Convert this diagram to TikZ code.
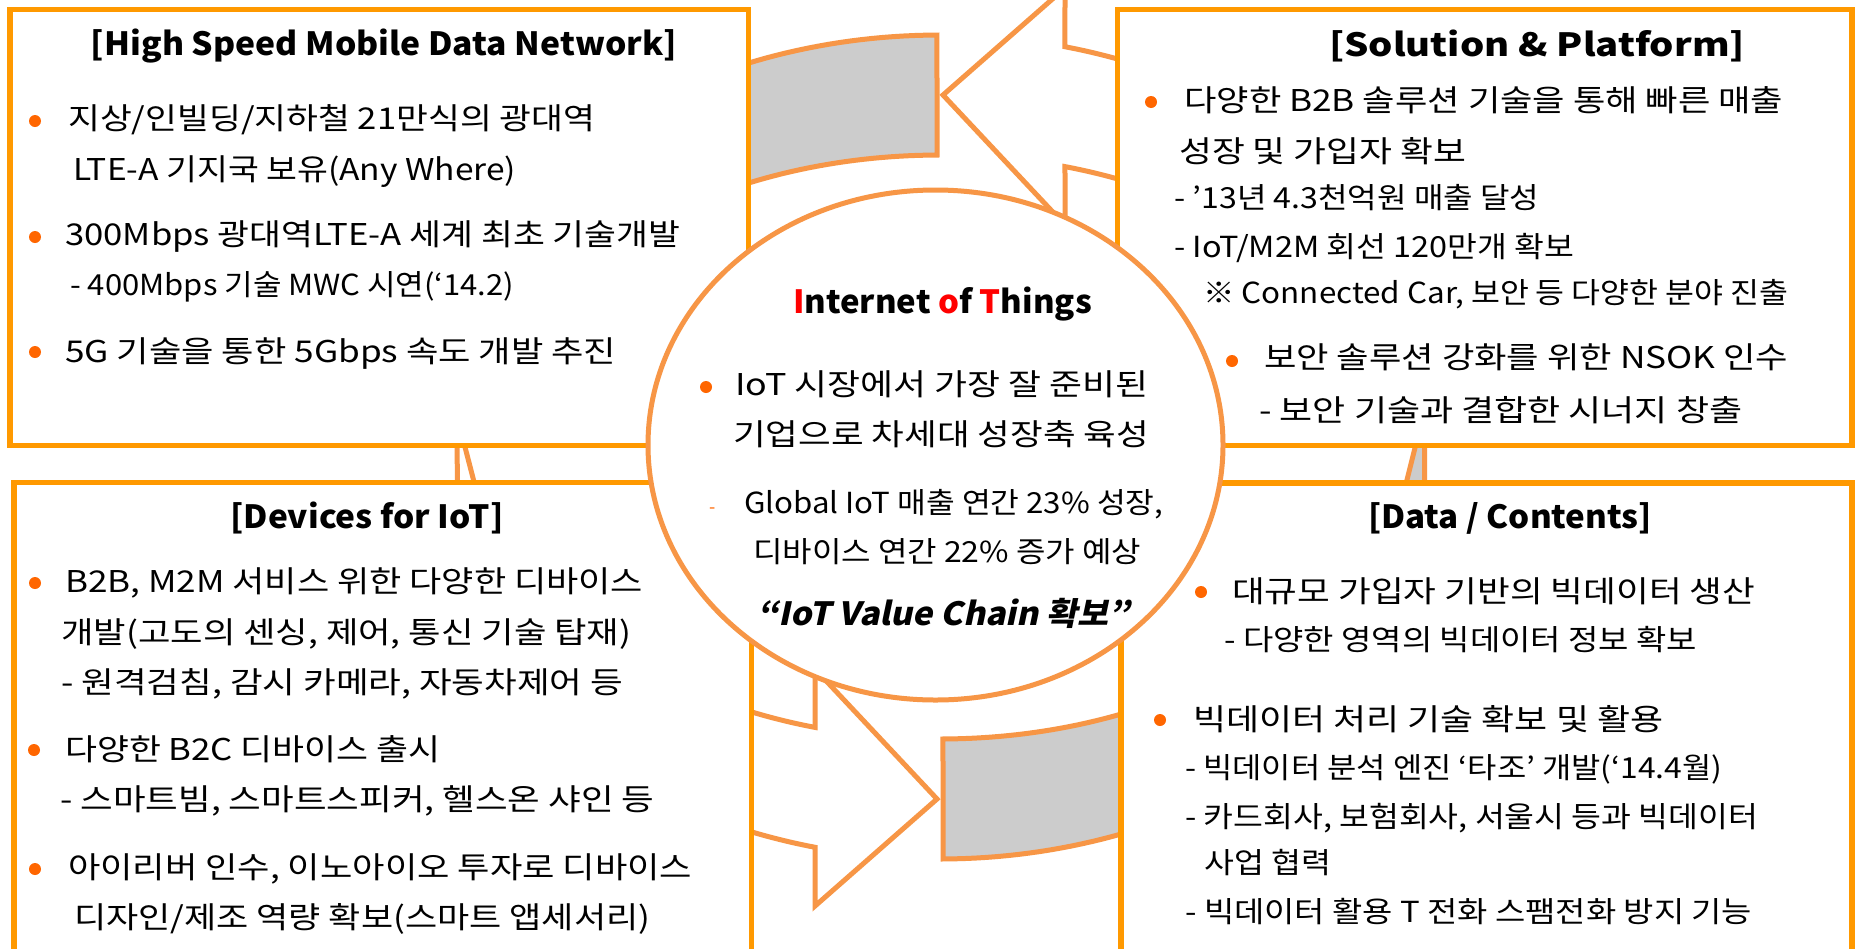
\documentclass[tikz,border=0pt]{standalone}
\usepackage{fontspec}
\usepackage{graphicx}
\setmainfont{Noto Sans CJK KR}
\newfontfamily\bifont{Noto Sans CJK KR}[FakeSlant=0.2]
\definecolor{boxor}{HTML}{FF9900}
\definecolor{arror}{HTML}{F79646}
\definecolor{bul}{HTML}{FF6600}
\definecolor{tailgray}{HTML}{CCCCCC}
\definecolor{hired}{HTML}{FF0000}
\newcommand\fw[2]{\resizebox{#1pt}{\height}{#2}}
\tikzset{
  panel/.style={draw=boxor, line width=5.5pt, fill=white},
  arrowpart/.style={draw=arror, line width=5pt, line join=miter, miter limit=10},
  hub/.style={draw=arror, line width=5pt, fill=white},
  dot/.style={circle, fill=bul, inner sep=0pt, minimum size=12pt},
  txt/.style={anchor=base west, inner sep=0pt, font=\fontsize{30}{36}\selectfont},
  subtxt/.style={anchor=base west, inner sep=0pt, font=\fontsize{29}{35}\selectfont},
  ttl/.style={anchor=base, inner sep=0pt, font=\fontsize{32}{38}\selectfont\bfseries},
}
\begin{document}
\begin{tikzpicture}[x=1pt,y=-1pt]
\useasboundingbox (0,0) rectangle (1859,948);
\clip (0,0) rectangle (1859,948);
\fill[white] (0,0) rectangle (1859,948);
% ---- curved arrows (behind everything) ----
% top gray tail
\draw[arrowpart, fill=tailgray] plot[domain=269.67:200, samples=60] ({940+528*cos(\x)},{447+412*sin(\x)})
  -- plot[domain=200:269.62, samples=60] ({940+448*cos(\x)},{447+292*sin(\x)}) -- cycle;
% top arrow head (pointing left)
\draw[arrowpart, fill=white] plot[domain=330:283.69, samples=60] ({940+528*cos(\x)},{447+412*sin(\x)})
  -- (1065,-12) -- (943,95) -- (1065,225)
  -- plot[domain=286.2:330, samples=60] ({940+448*cos(\x)},{447+292*sin(\x)}) -- cycle;
% bottom gray tail
\draw[arrowpart, fill=tailgray] plot[domain=89.67:20, samples=60] ({940+528*cos(\x)},{447+412*sin(\x)})
  -- plot[domain=20:89.62, samples=60] ({940+448*cos(\x)},{447+292*sin(\x)}) -- cycle;
% bottom arrow head (pointing right)
\draw[arrowpart, fill=white] plot[domain=150:103.69, samples=60] ({940+528*cos(\x)},{447+412*sin(\x)})
  -- (815,906) -- (937,799) -- (815,669)
  -- plot[domain=106.2:150, samples=60] ({940+448*cos(\x)},{447+292*sin(\x)}) -- cycle;
% pieces visible in the side gaps
\draw[arrowpart] (457,425) -- (457.5,505);
\draw[arrowpart] (459.3,425) -- (480,505);
\draw[arrowpart, fill=tailgray] (1424.5,425) -- (1424.5,505) -- (1400.7,505) -- (1420.7,425) -- cycle;
% ---- boxes ----
\draw[panel] (10,9.5) rectangle (748.5,445.5);
\draw[panel] (1117.5,9.5) rectangle (1852,445.5);
\draw[panel] (14,482.5) rectangle (751.5,970);
\draw[panel] (1121,483) rectangle (1852,970);
% ---- central circle ----
\draw[hub] (935.5,445) ellipse [x radius=287.5, y radius=255];
% ---- top-left texts ----
\node[ttl] (t1) at (384,55) {\fw{586}{[High Speed Mobile Data Network]}};
\node[dot] (d11) at (35,121) {};
\node[txt] (a1) at (68,129) {\fw{527}{지상/인빌딩/지하철 21만식의 광대역}};
\node[txt] (a2) at (73,180) {\fw{443}{LTE-A 기지국 보유(Any Where)}};
\node[dot] (d12) at (35,237) {};
\node[txt] (a3) at (65,245) {\fw{615}{300Mbps 광대역LTE-A 세계 최초 기술개발}};
\node[subtxt] (a4) at (70,295) {\fw{444}{- 400Mbps 기술 MWC 시연(‘14.2)}};
\node[dot] (d13) at (35,352) {};
\node[txt] (a5) at (65,362) {\fw{551}{5G 기술을 통한 5Gbps 속도 개발 추진}};
% ---- top-right texts ----
\node[ttl] (t2) at (1537,56) {\fw{416}{[Solution \& Platform]}};
\node[dot] (d21) at (1151,102) {};
\node[txt] (b1) at (1184,111) {\fw{599}{다양한 B2B 솔루션 기술을 통해 빠른 매출}};
\node[txt] (b2) at (1179,162) {\fw{287}{성장 및 가입자 확보}};
\node[subtxt] (b3) at (1174,208) {\fw{365}{- ’13년 4.3천억원 매출 달성}};
\node[subtxt] (b4) at (1174,257) {\fw{400}{- IoT/M2M 회선 120만개 확보}};
\node[subtxt] (b5) at (1203,303) {\fw{585}{※ Connected Car, 보안 등 다양한 분야 진출}};
\node[dot] (d22) at (1232,361) {};
\node[txt] (b6) at (1264,368) {\fw{524}{보안 솔루션 강화를 위한 NSOK 인수}};
\node[txt] (b7) at (1259,421) {\fw{483}{- 보안 기술과 결합한 시너지 창출}};
% ---- bottom-left texts ----
\node[ttl] (t3) at (367,528) {\fw{273}{[Devices for IoT]}};
\node[dot] (d31) at (35,583) {};
\node[txt] (c1) at (65,592) {\fw{578}{B2B, M2M 서비스 위한 다양한 디바이스}};
\node[txt] (c2) at (61,643) {\fw{570}{개발(고도의 센싱, 제어, 통신 기술 탑재)}};
\node[txt] (c3) at (61,693) {\fw{562}{- 원격검침, 감시 카메라, 자동차제어 등}};
\node[dot] (d32) at (34,750) {};
\node[txt] (c4) at (65,760) {\fw{375}{다양한 B2C 디바이스 출시}};
\node[txt] (c5) at (60,810) {\fw{594}{- 스마트빔, 스마트스피커, 헬스온 샤인 등}};
\node[dot] (d33) at (35,869) {};
\node[txt] (c6) at (68,878) {\fw{624}{아이리버 인수, 이노아이오 투자로 디바이스}};
\node[txt] (c7) at (74,928) {\fw{576}{디자인/제조 역량 확보(스마트 앱세서리)}};
% ---- bottom-right texts ----
\node[ttl] (t4) at (1510,528) {\fw{284}{[Data / Contents]}};
\node[dot] (d41) at (1201,592) {};
\node[txt] (e1) at (1232,602) {\fw{523}{대규모 가입자 기반의 빅데이터 생산}};
\node[subtxt] (e2) at (1224,650) {\fw{473}{- 다양한 영역의 빅데이터 정보 확보}};
\node[dot] (d42) at (1160,720) {};
\node[txt] (e3) at (1193,730) {\fw{470}{빅데이터 처리 기술 확보 및 활용}};
\node[subtxt] (e4) at (1185,778) {\fw{537}{- 빅데이터 분석 엔진 ‘타조’ 개발(‘14.4월)}};
\node[subtxt] (e5) at (1185,827) {\fw{573}{- 카드회사, 보험회사, 서울시 등과 빅데이터}};
\node[subtxt] (e6) at (1204,873) {\fw{127}{사업 협력}};
\node[subtxt] (e7) at (1185,922) {\fw{567}{- 빅데이터 활용 T 전화 스팸전화 방지 기능}};
% ---- circle texts ----
\node[ttl] (t5) at (942.5,313) {\fw{299}{\textcolor{hired}{I}nternet \textcolor{hired}{o}f \textcolor{hired}{T}hings}};
\node[dot] (d51) at (706,387) {};
\node[txt] (f1) at (735,395) {\fw{413}{IoT 시장에서 가장 잘 준비된}};
\node[txt] (f2) at (733,445) {\fw{416}{기업으로 차세대 성장축 육성}};
\node[anchor=base west, inner sep=0pt, text=bul, font=\fontsize{18}{20}\selectfont] (fd) at (709,513) {-};
\node[subtxt] (f3) at (744,513) {\fw{419}{Global IoT 매출 연간 23\% 성장,}};
\node[subtxt] (f4) at (753,562) {\fw{388}{디바이스 연간 22\% 증가 예상}};
\node[anchor=base, inner sep=0pt, font=\fontsize{32}{38}\selectfont\bifont\bfseries] (f5) at (943.5,625) {\fw{373}{“IoT Value Chain 확보”}};
\end{tikzpicture}
\end{document}
